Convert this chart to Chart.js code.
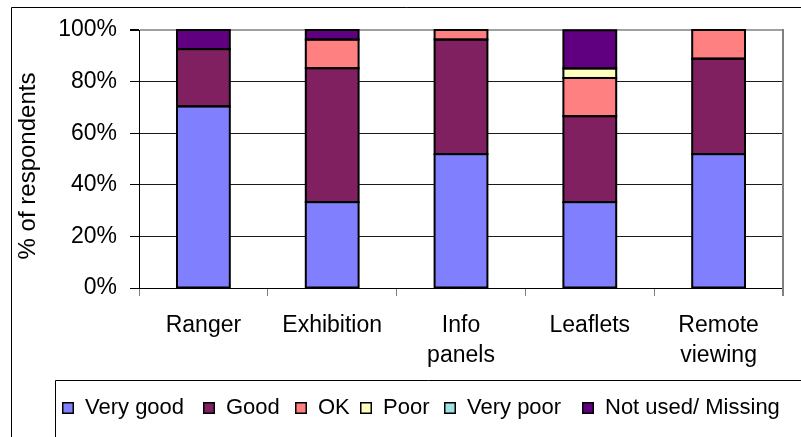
<!DOCTYPE html>
<html><head><meta charset="utf-8">
<script src="https://cdn.jsdelivr.net/npm/chart.js@4"></script>
<style>html,body{margin:0;padding:0;background:#fff}#wrap{width:801px;height:437px;position:relative}</style>
</head><body><div id="wrap"><canvas id="c" width="801" height="437"></canvas></div>
<script>
const categories = ["Ranger", "Exhibition", ["Info", "panels"], "Leaflets", ["Remote", "viewing"]];
const seriesNames = ["Very good", "Good", "OK", "Poor", "Very poor", "Not used/ Missing"];
const veryGood = [70.4, 33.3, 51.9, 33.3, 51.9];
const good     = [22.2, 51.9, 44.4, 33.3, 37.0];
const ok       = [0, 11.1, 3.7, 14.8, 11.1];
const poor     = [0, 0, 0, 3.7, 0];
const veryPoor = [0, 0, 0, 0, 0];
const notUsed  = [7.4, 3.7, 0, 14.8, 0];
const yTicks = [0, 20, 40, 60, 80, 100];
const yTitle = "% of respondents";
const colors = ["#8080FF", "#802060", "#FF8080", "#FFFFC0", "#A0E0E0", "#600080"];

const FONT = "'Liberation Sans', Arial, sans-serif";
const allSeries = [veryGood, good, ok, poor, veryPoor, notUsed];
const legendMarkerX = [62, 203, 295, 360, 444, 582];

const datasets = allSeries.map((arr, i) => ({
  label: seriesNames[i],
  data: arr.map(v => v === 0 ? null : v),
  backgroundColor: colors[i],
  borderWidth: 0,
  inflateAmount: 0,
  categoryPercentage: 1,
  barPercentage: 0.41
}));

const barOutlinePlugin = {
  id: "barOutline",
  afterDatasetsDraw(chart) {
    const ctx = chart.ctx;
    ctx.save();
    ctx.strokeStyle = "#000";
    ctx.lineWidth = 2;
    chart.data.datasets.forEach((ds, di) => {
      const meta = chart.getDatasetMeta(di);
      meta.data.forEach((el, j) => {
        if (ds.data[j] == null) return;
        const p = el.getProps(["x", "y", "base", "width"], true);
        const l = p.x - p.width / 2, r = p.x + p.width / 2;
        ctx.strokeRect(l, p.y, r - l, p.base - p.y);
      });
    });
    ctx.restore();
  }
};

const framePlugin = {
  id: "frame",
  afterDraw(chart) {
    const ctx = chart.ctx, a = chart.chartArea;
    ctx.save();
    // outer frame
    ctx.strokeStyle = "#000"; ctx.lineWidth = 1;
    ctx.beginPath();
    ctx.moveTo(11.5, 437); ctx.lineTo(11.5, 7.5); ctx.lineTo(801, 7.5);
    ctx.stroke();
    // plot area right border
    ctx.strokeStyle = "#808080"; ctx.lineWidth = 2;
    ctx.beginPath();
    ctx.moveTo(Math.round(a.right), a.top - 1); ctx.lineTo(Math.round(a.right), a.bottom + 8);
    ctx.stroke();
    // y axis title
    ctx.save();
    ctx.translate(28, 166);
    ctx.rotate(-Math.PI / 2);
    ctx.font = "24px " + FONT;
    ctx.fillStyle = "#000";
    ctx.textAlign = "center";
    ctx.textBaseline = "middle";
    ctx.fillText(yTitle, 0, 0);
    ctx.restore();
    // legend box
    ctx.strokeStyle = "#000"; ctx.lineWidth = 1;
    ctx.beginPath();
    ctx.moveTo(55.5, 437); ctx.lineTo(55.5, 380.5); ctx.lineTo(801, 380.5);
    ctx.stroke();
    // legend items
    ctx.font = "22px " + FONT;
    ctx.textBaseline = "middle";
    ctx.textAlign = "left";
    const yc = 408;
    seriesNames.forEach((name, i) => {
      const x = legendMarkerX[i];
      ctx.fillStyle = colors[i];
      ctx.fillRect(x, yc - 6, 12, 12);
      ctx.strokeStyle = "#000"; ctx.lineWidth = 1.5;
      ctx.strokeRect(x + 0.75, yc - 6 + 0.75, 10.5, 10.5);
      ctx.fillStyle = "#000";
      ctx.fillText(name, x + 23, yc);
    });
    ctx.restore();
  }
};

new Chart(document.getElementById("c"), {
  type: "bar",
  data: { labels: categories, datasets },
  options: {
    responsive: false,
    animation: false,
    layout: { padding: { left: 0, top: 30, right: 18, bottom: 0 } },
    plugins: { legend: { display: false }, tooltip: { enabled: false } },
    scales: {
      x: {
        stacked: true,
        afterFit(s) { s.height = 149; },
        grid: { drawOnChartArea: false, drawTicks: true, tickLength: 8, color: "#808080", offset: true },
        border: { color: "#000", width: 1 },
        ticks: { color: "#000", padding: 15, maxRotation: 0, autoSkip: false,
          font: { family: FONT, size: 23, lineHeight: 1.3 } }
      },
      y: {
        stacked: true,
        min: 0, max: 100,
        afterFit(s) { s.width = 139; },
        afterBuildTicks(s) { s.ticks = yTicks.map(v => ({ value: v })); },
        grid: {
          color: c => (c.tick && c.tick.value === 100) ? "#a0a0a0" : "#1a1a1a",
          lineWidth: c => (c.tick && c.tick.value === 100) ? 2 : 1,
          tickLength: 9, tickColor: "#000"
        },
        border: { color: "#000", width: 1 },
        ticks: { color: "#000", padding: 13, callback: v => v + "%",
          font: { family: FONT, size: 23 } },
        title: { display: false }
      }
    }
  },
  plugins: [barOutlinePlugin, framePlugin]
});
</script>
</body></html>
